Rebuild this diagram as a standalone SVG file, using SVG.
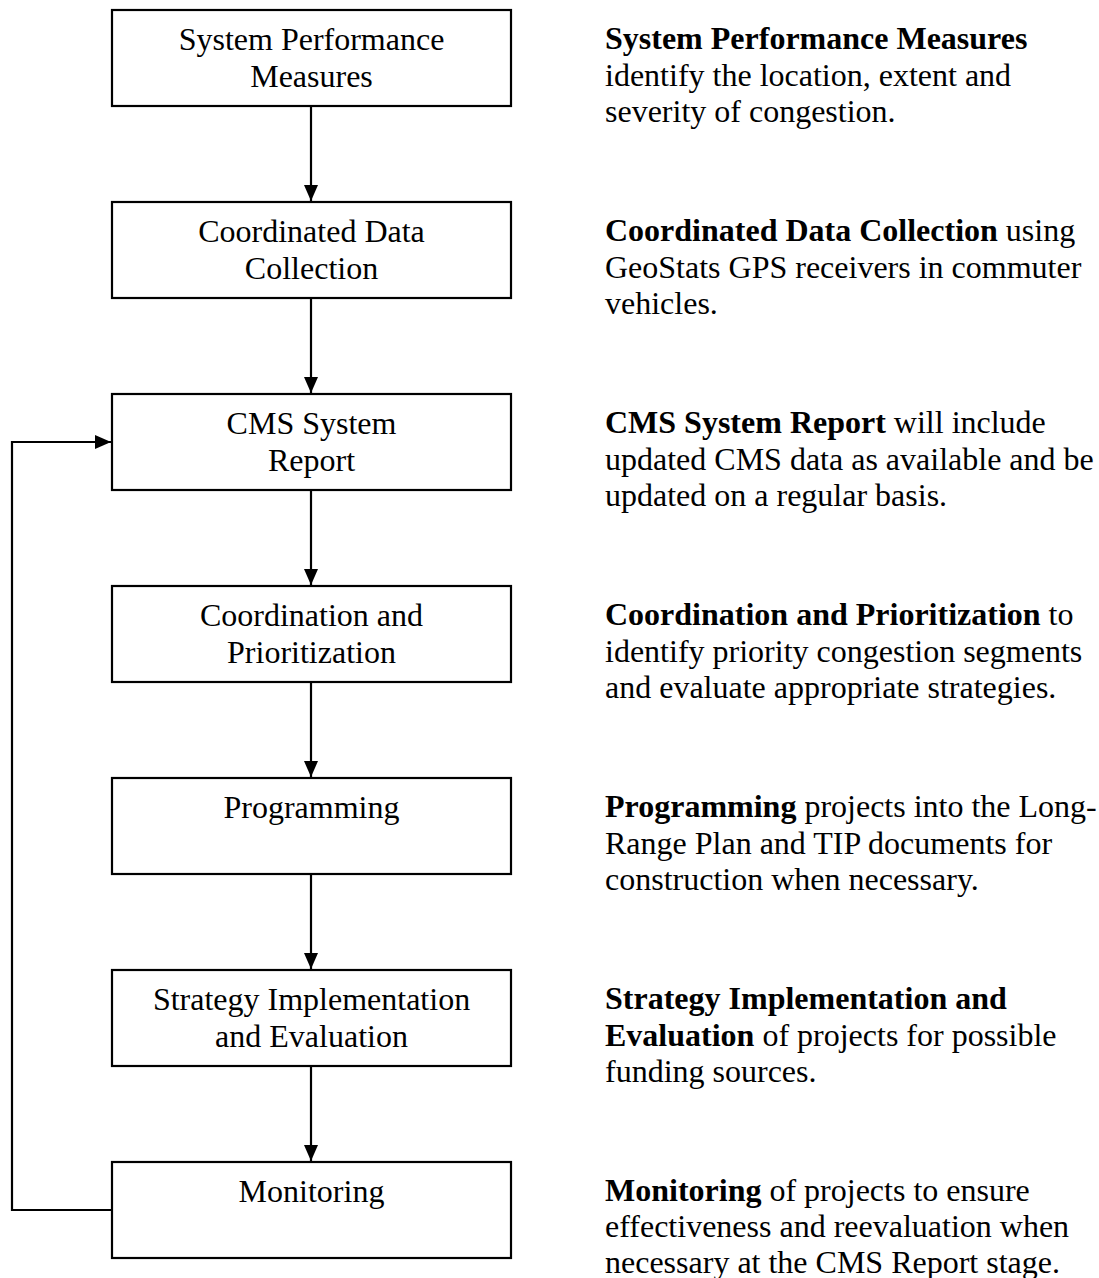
<svg xmlns="http://www.w3.org/2000/svg" width="1099" height="1278" viewBox="0 0 1099 1278">
<style>
.box{fill:#fff;stroke:#000;stroke-width:2.2}
.bt{font-family:"Liberation Serif","Times New Roman",serif;font-size:32px;fill:#000;text-anchor:middle}
.rt{font-family:"Liberation Serif","Times New Roman",serif;font-size:32px;fill:#000}
.b{font-weight:bold}
.ln{fill:none;stroke:#000;stroke-width:2.2}
</style>
<defs>
<marker id="ah" markerUnits="userSpaceOnUse" markerWidth="16" markerHeight="16" viewBox="0 0 16 16" refX="16" refY="8" orient="auto">
<path d="M0,1 L16,8 L0,15 Z" fill="#000"/>
</marker>
</defs>
<rect width="1099" height="1278" fill="#fff"/>
<g id="connectors">
<line class="ln" x1="311" y1="106" x2="311" y2="201" marker-end="url(#ah)"/>
<line class="ln" x1="311" y1="298" x2="311" y2="393" marker-end="url(#ah)"/>
<line class="ln" x1="311" y1="490" x2="311" y2="585" marker-end="url(#ah)"/>
<line class="ln" x1="311" y1="682" x2="311" y2="777" marker-end="url(#ah)"/>
<line class="ln" x1="311" y1="874" x2="311" y2="969" marker-end="url(#ah)"/>
<line class="ln" x1="311" y1="1066" x2="311" y2="1161" marker-end="url(#ah)"/>
<polyline class="ln" points="112,1210 12,1210 12,442 111,442" marker-end="url(#ah)"/>
</g>
<g id="n1"><rect class="box" x="112" y="10" width="399" height="96"/>
<text class="bt" x="311.5" y="50">System Performance</text><text class="bt" x="311.5" y="87">Measures</text></g>
<g id="n2"><rect class="box" x="112" y="202" width="399" height="96"/>
<text class="bt" x="311.5" y="242">Coordinated Data</text><text class="bt" x="311.5" y="279">Collection</text></g>
<g id="n3"><rect class="box" x="112" y="394" width="399" height="96"/>
<text class="bt" x="311.5" y="434">CMS System</text><text class="bt" x="311.5" y="471">Report</text></g>
<g id="n4"><rect class="box" x="112" y="586" width="399" height="96"/>
<text class="bt" x="311.5" y="626">Coordination and</text><text class="bt" x="311.5" y="663">Prioritization</text></g>
<g id="n5"><rect class="box" x="112" y="778" width="399" height="96"/>
<text class="bt" x="311.5" y="818">Programming</text></g>
<g id="n6"><rect class="box" x="112" y="970" width="399" height="96"/>
<text class="bt" x="311.5" y="1010">Strategy Implementation</text><text class="bt" x="311.5" y="1047">and Evaluation</text></g>
<g id="n7"><rect class="box" x="112" y="1162" width="399" height="96"/>
<text class="bt" x="311.5" y="1202">Monitoring</text></g>
<g id="d1"><text class="rt" x="605" y="49"><tspan class="b">System Performance Measures</tspan></text>
<text class="rt" x="605" y="86">identify the location, extent and</text>
<text class="rt" x="605" y="122">severity of congestion.</text></g>
<g id="d2"><text class="rt" x="605" y="241"><tspan class="b">Coordinated Data Collection</tspan> using</text>
<text class="rt" x="605" y="278">GeoStats GPS receivers in commuter</text>
<text class="rt" x="605" y="314">vehicles.</text></g>
<g id="d3"><text class="rt" x="605" y="433"><tspan class="b">CMS System Report</tspan> will include</text>
<text class="rt" x="605" y="470">updated CMS data as available and be</text>
<text class="rt" x="605" y="506">updated on a regular basis.</text></g>
<g id="d4"><text class="rt" x="605" y="625"><tspan class="b">Coordination and Prioritization</tspan> to</text>
<text class="rt" x="605" y="662">identify priority congestion segments</text>
<text class="rt" x="605" y="698">and evaluate appropriate strategies.</text></g>
<g id="d5"><text class="rt" x="605" y="817"><tspan class="b">Programming</tspan> projects into the Long-</text>
<text class="rt" x="605" y="854">Range Plan and TIP documents for</text>
<text class="rt" x="605" y="890">construction when necessary.</text></g>
<g id="d6"><text class="rt" x="605" y="1009"><tspan class="b">Strategy Implementation and</tspan></text>
<text class="rt" x="605" y="1046"><tspan class="b">Evaluation</tspan> of projects for possible</text>
<text class="rt" x="605" y="1082">funding sources.</text></g>
<g id="d7"><text class="rt" x="605" y="1201"><tspan class="b">Monitoring</tspan> of projects to ensure</text>
<text class="rt" x="605" y="1237">effectiveness and reevaluation when</text>
<text class="rt" x="605" y="1273">necessary at the CMS Report stage.</text></g>
</svg>
